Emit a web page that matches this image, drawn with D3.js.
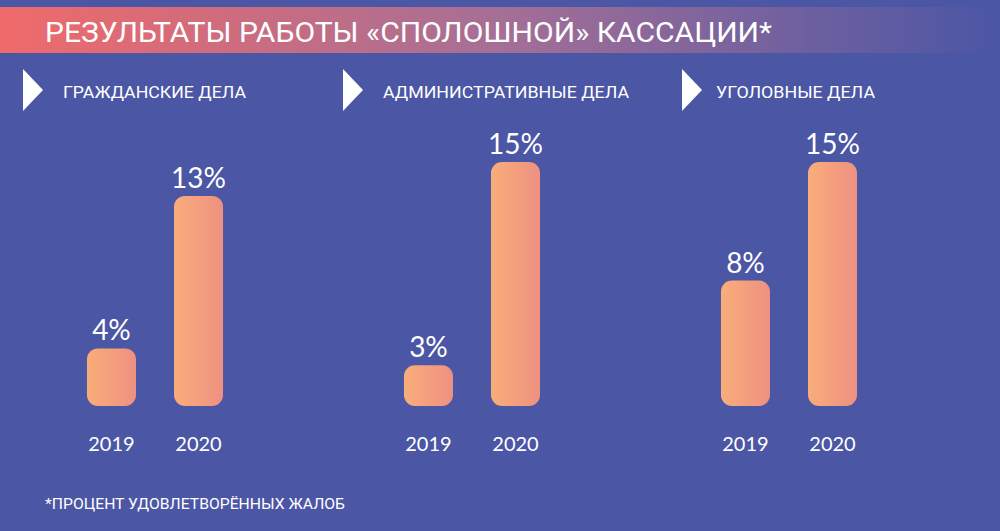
<!DOCTYPE html>
<html>
<head>
<meta charset="utf-8">
<script src="https://cdn.jsdelivr.net/npm/d3@7"></script>
<style>
	html, body { margin: 0; padding: 0; background: #4b56a5; }
	svg { display: block; }
</style>
</head>
<body>
<div id="chart"></div>
<script>
var TITLE = "РЕЗУЛЬТАТЫ РАБОТЫ «СПОЛОШНОЙ» КАССАЦИИ*";
var FOOTNOTE = "*ПРОЦЕНТ УДОВЛЕТВОРЁННЫХ ЖАЛОБ";
var categories = ["ГРАЖДАНСКИЕ ДЕЛА", "АДМИНИСТРАТИВНЫЕ ДЕЛА", "УГОЛОВНЫЕ ДЕЛА"];
var years = ["2019", "2020"];
var values2019 = [4, 3, 8];
var values2020 = [13, 15, 15];

// layout
var w = 1000, h = 531;
var bg = "#4b56a5";
var panelStep = 317;
var headerX = [23, 343, 682];
var headerTextW = [183, 246, 159];
var baseline = 406;

var svg = d3.select("#chart").append("svg").attr("width", w).attr("height", h);
var defs = svg.append("defs");

var tg = defs.append("linearGradient").attr("id", "titleGrad")
	.attr("x1", "0%").attr("x2", "100%").attr("y1", "0%").attr("y2", "0%");
tg.append("stop").attr("offset", "0%").attr("stop-color", "#f06a6a");
tg.append("stop").attr("offset", "50%").attr("stop-color", "#a56f96");
tg.append("stop").attr("offset", "100%").attr("stop-color", bg);

var bgGrad = defs.append("linearGradient").attr("id", "barGrad")
	.attr("x1", "0%").attr("x2", "100%").attr("y1", "0%").attr("y2", "0%");
bgGrad.append("stop").attr("offset", "0%").attr("stop-color", "#f9ad7a");
bgGrad.append("stop").attr("offset", "100%").attr("stop-color", "#ee9181");

svg.append("rect").attr("width", w).attr("height", h).attr("fill", bg);

// title band
svg.append("rect").attr("x", 0).attr("y", 7).attr("width", w).attr("height", 46)
	.attr("fill", "url(#titleGrad)");
svg.append("text")
	.attr("x", 45).attr("y", 42)
	.attr("fill", "#fff")
	.attr("font-family", "Roboto, sans-serif")
	.attr("font-size", 28)
	.attr("textLength", 727)
	.attr("lengthAdjust", "spacingAndGlyphs")
	.text(TITLE);

var x = d3.scaleBand().domain(years).range([68, 242]).paddingInner(0.437).paddingOuter(0.218);
var y = d3.scaleLinear().domain([0.6, 15]).range([baseline, 162]);

var data = categories.map(function(c, i){
	return {name: c, vals: [values2019[i], values2020[i]]};
});

var panel = svg.selectAll(".panel")
	.data(data)
	.enter()
	.append("g")
	.attr("class", "panel");

// headers
panel.append("path")
	.attr("d", function(d, i){
		var x0 = headerX[i];
		return "M" + x0 + ",69 L" + (x0 + 20) + ",90 L" + x0 + ",111 Z";
	})
	.attr("fill", "#fff");

panel.append("text")
	.attr("x", function(d, i){ return headerX[i] + (i == 2 ? 34 : 40); })
	.attr("y", 98)
	.attr("fill", "#fff")
	.attr("font-family", "Roboto, sans-serif")
	.attr("font-size", 17)
	.attr("textLength", function(d, i){ return headerTextW[i]; })
	.attr("lengthAdjust", "spacingAndGlyphs")
	.text(function(d){ return d.name; });

var bars = panel.append("g")
	.attr("transform", function(d, i){ return "translate(" + (panelStep * i) + ",0)"; });

var item = bars.selectAll(".bar")
	.data(function(d){
		return d.vals.map(function(v, j){ return {year: years[j], v: v}; });
	})
	.enter()
	.append("g");

item.append("rect")
	.attr("x", function(d){ return x(d.year); })
	.attr("y", function(d){ return y(d.v); })
	.attr("width", x.bandwidth())
	.attr("height", function(d){ return baseline - y(d.v); })
	.attr("rx", 11)
	.attr("fill", "url(#barGrad)");

item.append("text")
	.attr("x", function(d){ return x(d.year) + x.bandwidth() / 2; })
	.attr("y", function(d){ return y(d.v) - 8; })
	.attr("text-anchor", "middle")
	.attr("fill", "#fff")
	.attr("font-family", "Lato, sans-serif")
	.attr("font-size", 28)
	.text(function(d){ return d.v + "%"; });

item.append("text")
	.attr("x", function(d){ return x(d.year) + x.bandwidth() / 2; })
	.attr("y", 451)
	.attr("text-anchor", "middle")
	.attr("fill", "#fff")
	.attr("font-family", "Lato, sans-serif")
	.attr("font-size", 20)
	.text(function(d){ return d.year; });

svg.append("text")
	.attr("x", 45).attr("y", 509)
	.attr("fill", "#fff")
	.attr("font-family", "Roboto, sans-serif")
	.attr("font-size", 14)
	.attr("textLength", 300)
	.attr("lengthAdjust", "spacingAndGlyphs")
	.text(FOOTNOTE);
</script>
</body>
</html>
